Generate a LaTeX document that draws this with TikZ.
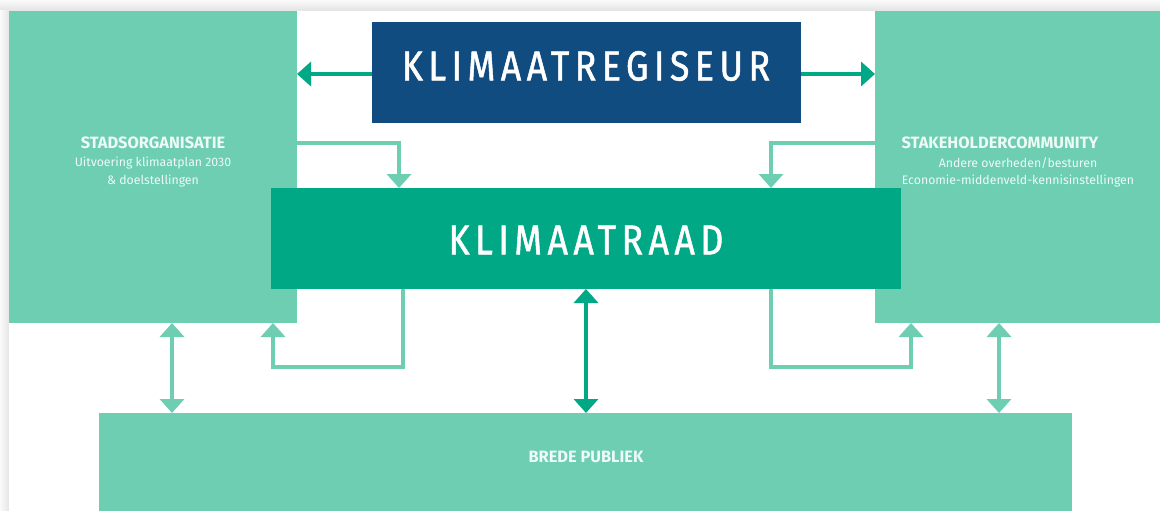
\documentclass[tikz,border=0pt]{standalone}
\usepackage{fontspec}
\setmainfont{Fira Sans}
\newfontfamily\titlefont[LetterSpace=13,FakeStretch=0.85,FakeBold=1.2]{Fira Sans}
\usetikzlibrary{arrows.meta}
\definecolor{lightg}{HTML}{6DCEB2}
\definecolor{midg}{HTML}{00A886}
\definecolor{darkb}{HTML}{114C80}
\definecolor{txtw}{HTML}{EEFAF6}
\begin{document}
\begin{tikzpicture}[x=1pt,y=-1pt,
  box/.style={draw=none,inner sep=0pt,outer sep=0pt,anchor=north west},
  bigtitle/.style={text=white,font=\titlefont\fontsize{42}{42}\selectfont},
  headtxt/.style={text=txtw,font=\bfseries\fontsize{16.4}{16.4}\selectfont,inner sep=0pt},
  subtxt/.style={text=txtw,font=\fontsize{12.3}{12.3}\selectfont,inner sep=0pt},
  tipL/.tip={Triangle[width=24pt,length=14pt]},
  lconn/.style={draw=lightg,line width=4pt,line join=miter,-tipL},
  lboth/.style={draw=lightg,line width=4pt,tipL-tipL},
  dconn/.style={draw=midg,line width=4pt,-tipL},
  dboth/.style={draw=midg,line width=4pt,tipL-tipL}]
\useasboundingbox (0,0) rectangle (1160,511);
\clip (0,0) rectangle (1160,511);
% page shadow
\shade[top color=gray!4,bottom color=gray!22] (0,0) rectangle (1160,11);
\shade[left color=gray!4,right color=gray!20] (0,11) rectangle (9,511);
\fill[white] (9,11) rectangle (1160,511);
% boxes
\node[box,fill=lightg,minimum width=288pt,minimum height=312pt] (stad) at (9,11) {};
\node[box,fill=lightg,minimum width=300pt,minimum height=312pt] (stake) at (875,11) {};
\node[box,fill=lightg,minimum width=973pt,minimum height=110pt] (publiek) at (99,413) {};
\node[box,fill=darkb,minimum width=429pt,minimum height=101pt] (regis) at (372,22) {};
\node[box,fill=midg,minimum width=630pt,minimum height=101pt] (raad) at (271,188) {};
% texts
\node[bigtitle] (registxt) at (586,66) {KLIMAATREGISEUR};
\node[bigtitle] (raadtxt) at (586,240) {KLIMAATRAAD};
\node[headtxt] (stadh) at (153,143) {STADSORGANISATIE};
\node[subtxt] (stads1) at (153,163) {Uitvoering klimaatplan 2030};
\node[subtxt] (stads2) at (153,181) {\& doelstellingen};
\node[headtxt] (stakeh) at (1000,143) {STAKEHOLDERCOMMUNITY};
\node[subtxt] (stakes1) at (1018,163) {Andere overheden/besturen};
\node[subtxt] (stakes2) at (1018,181) {Economie-middenveld-kennisinstellingen};
\node[headtxt] (publh) at (586,457) {BREDE PUBLIEK};
% helper coordinates
\coordinate (yA) at (0,74);
\coordinate (yB) at (0,143);
\coordinate (yC) at (0,367);
\coordinate (xL1) at (399,0);
\coordinate (xR1) at (771,0);
\coordinate (xL2) at (403,0);
\coordinate (xL3) at (273,0);
\coordinate (xR2) at (771,0);
\coordinate (xR3) at (911,0);
\coordinate (xLv) at (172,0);
\coordinate (xRv) at (999,0);
\coordinate (xC) at (586,0);
% regiseur arrows
\draw[dconn] (regis.west |- yA) -- (stad.east |- yA);
\draw[dconn] (regis.east |- yA) -- (stake.west |- yA);
% top feedback arrows
\draw[lconn] (stad.east |- yB) -| (raad.north -| xL1);
\draw[lconn] (stake.west |- yB) -| (raad.north -| xR1);
% bottom feedback arrows
\draw[lconn] (raad.south -| xL2) |- (xL3 |- yC) -- (stad.south -| xL3);
\draw[lconn] (raad.south -| xR2) |- (xR3 |- yC) -- (stake.south -| xR3);
% double arrows
\draw[lboth] (stad.south -| xLv) -- (publiek.north -| xLv);
\draw[lboth] (stake.south -| xRv) -- (publiek.north -| xRv);
\draw[dboth] (raad.south -| xC) -- (publiek.north -| xC);
\end{tikzpicture}
\end{document}
